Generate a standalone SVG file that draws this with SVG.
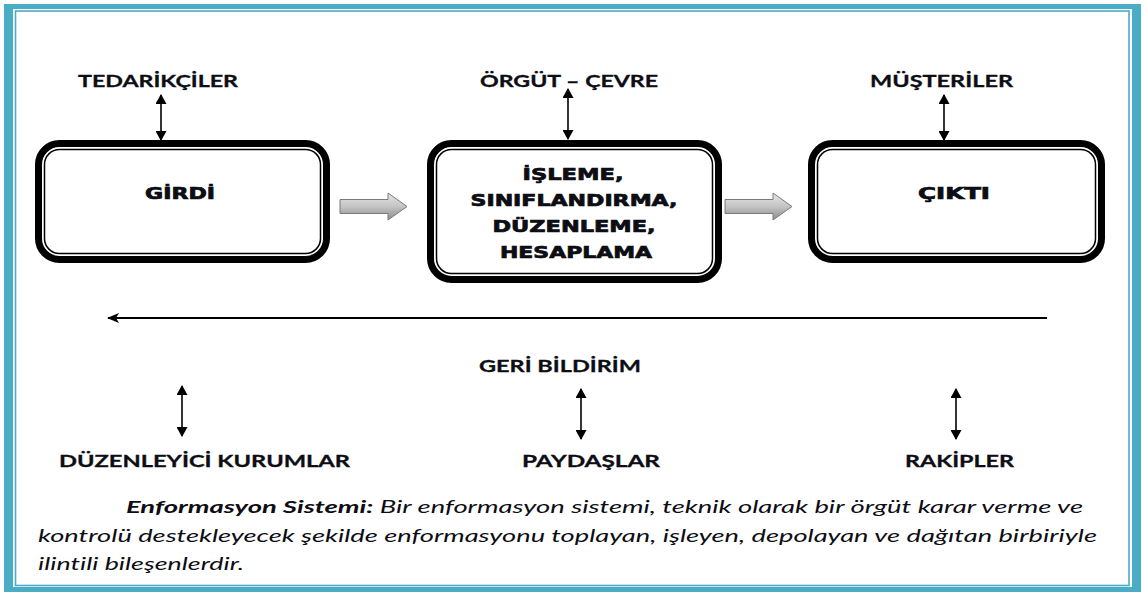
<svg xmlns="http://www.w3.org/2000/svg" width="1147" height="592" viewBox="0 0 1147 592">
<style>
.box{fill:#fff;stroke:#000;stroke-width:7}
.inner{fill:none;stroke:#000;stroke-width:1.5}
.bt{font-family:"DejaVu Sans",Verdana,sans-serif;font-weight:bold;font-size:16px;fill:#0d0d14;stroke:#0d0d14;stroke-width:0.7;text-anchor:middle}
.lb{font-family:Lato,"Open Sans",sans-serif;font-weight:bold;font-size:17px;fill:#0d0d14;stroke:#0d0d14;stroke-width:0.3;font-variant-ligatures:none}
.para{font-family:Lato,"Open Sans",sans-serif;font-style:italic;font-size:17px;fill:#0d0d14;font-variant-ligatures:none}
.dbl{stroke:#000;stroke-width:1.6;fill:none;marker-start:url(#ah);marker-end:url(#ah)}
.blk{fill:url(#gg);stroke:#7a7a7a;stroke-width:1}
</style>
<defs>
<marker id="ah" viewBox="0 0 10 11" refX="9" refY="5.5" markerWidth="10" markerHeight="11" markerUnits="userSpaceOnUse" orient="auto-start-reverse">
<path d="M0,0 L10,5.5 L0,11 z" fill="#000"/>
</marker>
<marker id="fb" viewBox="0 0 12 10" refX="11" refY="5" markerWidth="12" markerHeight="10" markerUnits="userSpaceOnUse" orient="auto">
<path d="M0,0 L12,5 L0,10 L3,5 z" fill="#000"/>
</marker>
<linearGradient id="gg" x1="0" y1="0" x2="0" y2="1">
<stop offset="0" stop-color="#e6e6e6"/>
<stop offset="0.5" stop-color="#c4c4c4"/>
<stop offset="1" stop-color="#8c8c8c"/>
</linearGradient>
</defs>
<rect width="1147" height="592" fill="#fff"/>
<g id="frame">
<path d="M4,4 H1141 V592 H4 Z M13,9 V587 H1132 V9 Z" fill="#4bacc6" fill-rule="evenodd"/>
<rect x="15.5" y="11" width="1113.5" height="574.5" fill="none" stroke="#4bacc6" stroke-width="1.6"/>
</g>
<g id="girdi">
<rect class="box" x="38.5" y="143.5" width="288" height="116" rx="21"/>
<rect class="inner" x="44.5" y="149.5" width="276" height="104" rx="15"/>
<text class="bt" x="180" y="199" textLength="70" lengthAdjust="spacingAndGlyphs">GİRDİ</text>
</g>
<g id="isleme">
<rect class="box" x="430.5" y="143.5" width="288" height="136" rx="21"/>
<rect class="inner" x="436.5" y="149.5" width="276" height="124" rx="15"/>
<text class="bt" x="573" y="180" textLength="101" lengthAdjust="spacingAndGlyphs">İŞLEME,</text>
<text class="bt" x="574" y="206" textLength="207" lengthAdjust="spacingAndGlyphs">SINIFLANDIRMA,</text>
<text class="bt" x="574" y="232" textLength="163" lengthAdjust="spacingAndGlyphs">DÜZENLEME,</text>
<text class="bt" x="576" y="258" textLength="152" lengthAdjust="spacingAndGlyphs">HESAPLAMA</text>
</g>
<g id="cikti">
<rect class="box" x="811.5" y="143.5" width="290" height="116" rx="21"/>
<rect class="inner" x="817.5" y="149.5" width="278" height="104" rx="15"/>
<text class="bt" x="954" y="199" textLength="72" lengthAdjust="spacingAndGlyphs">ÇIKTI</text>
</g>
<g id="tedarikciler"><text class="lb" x="78" y="86.5" textLength="160" lengthAdjust="spacingAndGlyphs">TEDARİKÇİLER</text></g>
<g id="orgut-cevre"><text class="lb" x="480" y="86.5" textLength="178" lengthAdjust="spacingAndGlyphs">ÖRGÜT – ÇEVRE</text></g>
<g id="musteriler"><text class="lb" x="870" y="86.5" textLength="143" lengthAdjust="spacingAndGlyphs">MÜŞTERİLER</text></g>
<g id="geri-bildirim"><text class="lb" x="479" y="372" textLength="162" lengthAdjust="spacingAndGlyphs">GERİ BİLDİRİM</text></g>
<g id="duzenleyici"><text class="lb" x="59" y="466.5" textLength="291" lengthAdjust="spacingAndGlyphs">DÜZENLEYİCİ KURUMLAR</text></g>
<g id="paydaslar"><text class="lb" x="522" y="466.5" textLength="138" lengthAdjust="spacingAndGlyphs">PAYDAŞLAR</text></g>
<g id="rakipler"><text class="lb" x="905" y="466.5" textLength="109" lengthAdjust="spacingAndGlyphs">RAKİPLER</text></g>
<g id="connectors">
<line class="dbl" x1="161" y1="95" x2="161" y2="140"/>
<line class="dbl" x1="568" y1="89" x2="568" y2="139"/>
<line class="dbl" x1="944" y1="95" x2="944" y2="140"/>
<line class="dbl" x1="182" y1="386" x2="182" y2="436"/>
<line class="dbl" x1="581" y1="389" x2="581" y2="439"/>
<line class="dbl" x1="956" y1="389" x2="956" y2="439"/>
<line x1="1047" y1="318" x2="108" y2="318" stroke="#000" stroke-width="2.2" marker-end="url(#fb)"/>
<path class="blk" d="M340,199.5 H388 V193 L407,206.5 L388,220 V213.5 H340 Z"/>
<path class="blk" d="M725,199.5 H773 V193 L792,206.5 L773,220 V213.5 H725 Z"/>
</g>
<g id="definition">
<text class="para" x="126" y="513" textLength="957" lengthAdjust="spacingAndGlyphs"><tspan font-weight="bold">Enformasyon Sistemi:</tspan> Bir enformasyon sistemi, teknik olarak bir örgüt karar verme ve</text>
<text class="para" x="38" y="542" textLength="1059" lengthAdjust="spacingAndGlyphs">kontrolü destekleyecek şekilde enformasyonu toplayan, işleyen, depolayan ve dağıtan birbiriyle</text>
<text class="para" x="38" y="570" textLength="206" lengthAdjust="spacingAndGlyphs">ilintili bileşenlerdir.</text>
</g>
</svg>
